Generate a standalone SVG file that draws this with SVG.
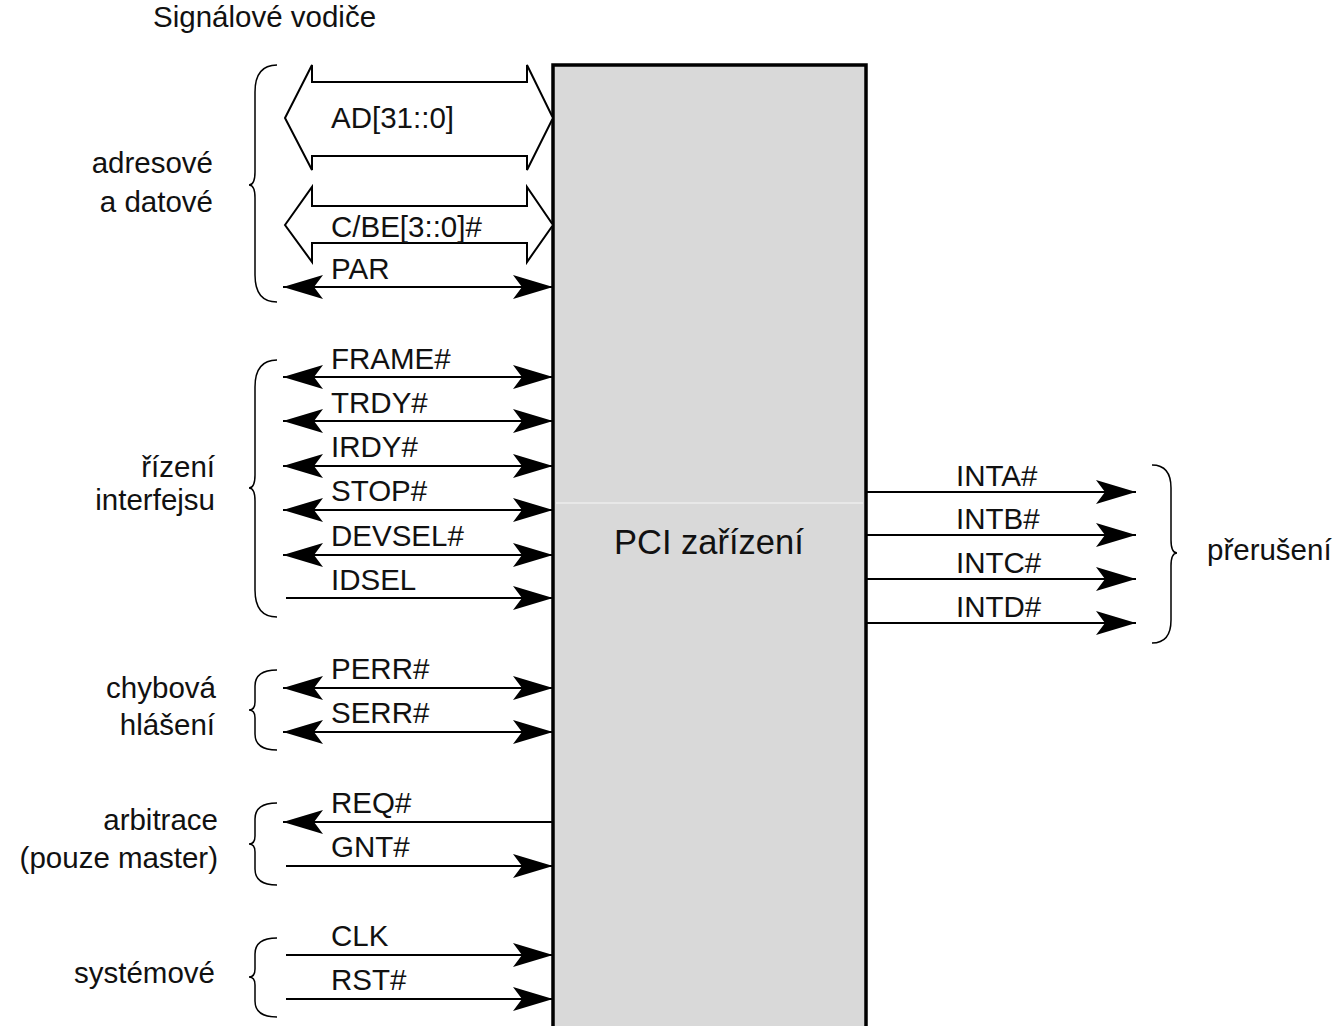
<svg xmlns="http://www.w3.org/2000/svg" width="1339" height="1026" viewBox="0 0 1339 1026">
<style>
text{font-family:"Liberation Sans",Arial,sans-serif;font-size:29.5px;fill:#111}
.sig{stroke:#000;stroke-width:2;fill:none}
.bus{stroke:#000;stroke-width:2;fill:#fff;stroke-linejoin:miter}
.brace{stroke:#000;stroke-width:1.5;fill:none}
.r{text-anchor:end}
</style>
<defs>
<marker id="ah" markerUnits="userSpaceOnUse" markerWidth="42" markerHeight="26" refX="40" refY="13" orient="auto-start-reverse" overflow="visible">
<path d="M40,13 L0,1 L9,13 L0,25 Z" fill="#000"/>
</marker>
</defs>
<rect width="1339" height="1026" fill="#fff"/>
<text x="153" y="27">Signálové vodiče</text>

<g id="pci">
<rect x="553" y="65" width="313" height="985" fill="#d9d9d9" stroke="#000" stroke-width="3.5"/>
<line x1="556" y1="503" x2="863" y2="503" stroke="#fff" stroke-width="1" opacity="0.8"/>
<text x="614" y="554" style="font-size:34.5px">PCI zařízení</text>
</g>

<g id="connectors">
<polygon class="bus" points="285,118 312,65 312,82 527,82 527,65 553,118 527,170 527,156 312,156 312,170"/>
<polygon class="bus" points="285,225 312,187 312,206 527,206 527,187 553,225 527,262 527,243 312,243 312,262"/>
<line class="sig" x1="283" y1="287" x2="553" y2="287" marker-start="url(#ah)" marker-end="url(#ah)"/>
<line class="sig" x1="283" y1="377" x2="553" y2="377" marker-start="url(#ah)" marker-end="url(#ah)"/>
<line class="sig" x1="283" y1="421" x2="553" y2="421" marker-start="url(#ah)" marker-end="url(#ah)"/>
<line class="sig" x1="283" y1="466" x2="553" y2="466" marker-start="url(#ah)" marker-end="url(#ah)"/>
<line class="sig" x1="283" y1="510" x2="553" y2="510" marker-start="url(#ah)" marker-end="url(#ah)"/>
<line class="sig" x1="283" y1="555" x2="553" y2="555" marker-start="url(#ah)" marker-end="url(#ah)"/>
<line class="sig" x1="286" y1="598" x2="553" y2="598" marker-end="url(#ah)"/>
<line class="sig" x1="283" y1="688" x2="553" y2="688" marker-start="url(#ah)" marker-end="url(#ah)"/>
<line class="sig" x1="283" y1="732" x2="553" y2="732" marker-start="url(#ah)" marker-end="url(#ah)"/>
<line class="sig" x1="553" y1="822" x2="283" y2="822" marker-end="url(#ah)"/>
<line class="sig" x1="286" y1="866" x2="553" y2="866" marker-end="url(#ah)"/>
<line class="sig" x1="286" y1="955" x2="553" y2="955" marker-end="url(#ah)"/>
<line class="sig" x1="286" y1="999" x2="553" y2="999" marker-end="url(#ah)"/>
<line class="sig" x1="866" y1="492" x2="1136" y2="492" marker-end="url(#ah)"/>
<line class="sig" x1="866" y1="535" x2="1136" y2="535" marker-end="url(#ah)"/>
<line class="sig" x1="866" y1="579" x2="1136" y2="579" marker-end="url(#ah)"/>
<line class="sig" x1="866" y1="623" x2="1136" y2="623" marker-end="url(#ah)"/>
</g>

<g id="signal-labels">
<text x="331" y="128">AD[31::0]</text>
<text x="331" y="237">C/BE[3::0]#</text>
<text x="331" y="279">PAR</text>
<text x="331" y="369">FRAME#</text>
<text x="331" y="413">TRDY#</text>
<text x="331" y="457">IRDY#</text>
<text x="331" y="501">STOP#</text>
<text x="331" y="546">DEVSEL#</text>
<text x="331" y="590">IDSEL</text>
<text x="331" y="679">PERR#</text>
<text x="331" y="723">SERR#</text>
<text x="331" y="813">REQ#</text>
<text x="331" y="857">GNT#</text>
<text x="331" y="946">CLK</text>
<text x="331" y="990">RST#</text>
<text x="956" y="486">INTA#</text>
<text x="956" y="529">INTB#</text>
<text x="956" y="573">INTC#</text>
<text x="956" y="617">INTD#</text>
</g>

<g id="group-address">
<path class="brace" d="M277,65 C262,65 255,75 255,92 L255,172 C255,180 253,185 249,185 C253,185 255,190 255,198 L255,275 C255,292 262,302 277,302"/>
<text class="r" x="213" y="173">adresové</text>
<text class="r" x="213" y="212">a datové</text>
</g>
<g id="group-control">
<path class="brace" d="M277,360 C262,360 255,370 255,387 L255,475 C255,483 253,488 249,488 C253,488 255,493 255,501 L255,590 C255,607 262,617 277,617"/>
<text class="r" x="215" y="477">řízení</text>
<text class="r" x="215" y="510">interfejsu</text>
</g>
<g id="group-error">
<path class="brace" d="M277,670 C262,670 255,676 255,686 L255,702 C255,707 253,710 249,710 C253,710 255,713 255,718 L255,734 C255,744 262,750 277,750"/>
<text class="r" x="216" y="698">chybová</text>
<text class="r" x="215" y="735">hlášení</text>
</g>
<g id="group-arbitration">
<path class="brace" d="M277,803 C262,803 255,809 255,819 L255,836 C255,841 253,844 249,844 C253,844 255,847 255,852 L255,869 C255,879 262,885 277,885"/>
<text class="r" x="218" y="830">arbitrace</text>
<text class="r" x="218" y="868">(pouze master)</text>
</g>
<g id="group-system">
<path class="brace" d="M277,938 C262,938 255,944 255,954 L255,969 C255,974 253,977 249,977 C253,977 255,980 255,985 L255,1001 C255,1011 262,1017 277,1017"/>
<text class="r" x="215" y="983">systémové</text>
</g>
<g id="group-interrupt">
<path class="brace" d="M1152,465 C1165,465 1171,473 1171,488 L1171,540 C1171,548 1173,553 1177,553 C1173,553 1171,558 1171,566 L1171,620 C1171,635 1165,643 1152,643"/>
<text x="1207" y="560">přerušení</text>
</g>
</svg>
